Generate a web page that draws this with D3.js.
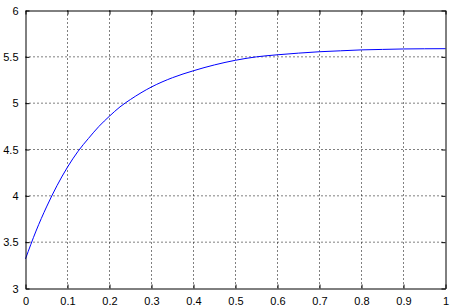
<!DOCTYPE html>
<html lang="en">
<head>
    <meta charset="UTF-8">
    <title>Curve</title>
    <script src="https://d3js.org/d3.v7.min.js"></script>
    <style>
        body { margin: 0; background: #fff; }
        .axis text {
            font-family: "Liberation Sans", Arial, sans-serif;
            font-size: 11px;
            fill: #000;
        }
    </style>
</head>
<body>
    <script>
        // values
        var xValues = [0, 0.025, 0.05, 0.075, 0.1, 0.125, 0.15, 0.175, 0.2, 0.225, 0.25, 0.3, 0.35, 0.4, 0.45, 0.5,
                       0.55, 0.6, 0.65, 0.7, 0.75, 0.8, 0.85, 0.9, 0.95, 1];
        var yValues = [3.32, 3.62, 3.88, 4.11, 4.31, 4.48, 4.62, 4.75, 4.86, 4.96, 5.04, 5.175, 5.275, 5.35, 5.413, 5.463,
                       5.50, 5.522, 5.54, 5.555, 5.565, 5.575, 5.58, 5.585, 5.587, 5.588];
        var xTicks = [0, 0.1, 0.2, 0.3, 0.4, 0.5, 0.6, 0.7, 0.8, 0.9, 1];
        var yTicks = [3, 3.5, 4, 4.5, 5, 5.5, 6];

        var width = 458;
        var height = 307;
        var pLeft = 25, pRight = 445, pTop = 10, pBottom = 288;

        var svg = d3.select('body')
            .append('svg')
            .attr('width', width)
            .attr('height', height);

        var xscale = d3.scaleLinear()
            .domain([0, 1])
            .range([pLeft, pRight]);

        var yscale = d3.scaleLinear()
            .domain([3, 6])
            .range([pBottom, pTop]);

        var g = svg.append('g')
            .attr('transform', 'translate(0.5,0.5)');

        // grid
        g.selectAll('.xgrid')
            .data(xTicks.slice(1, -1))
            .enter()
            .append('line')
            .attr('x1', xscale)
            .attr('x2', xscale)
            .attr('y1', pTop)
            .attr('y2', pBottom)
            .attr('stroke', '#000')
            .attr('stroke-dasharray', '1 3');

        g.selectAll('.ygrid')
            .data(yTicks.slice(1, -1))
            .enter()
            .append('line')
            .attr('x1', pLeft)
            .attr('x2', pRight)
            .attr('y1', yscale)
            .attr('y2', yscale)
            .attr('stroke', '#000')
            .attr('stroke-dasharray', '1 3');

        // curve
        var line = d3.line()
            .x(function (d, i) { return xscale(xValues[i]); })
            .y(function (d) { return yscale(d); })
            .curve(d3.curveMonotoneX);

        g.append('path')
            .datum(yValues)
            .attr('d', line)
            .attr('fill', 'none')
            .attr('stroke', '#0000ff')
            .attr('stroke-width', 1);

        // axes, ticks point inward like matlab
        var xaxis = d3.axisBottom(xscale)
            .tickValues(xTicks)
            .tickSizeInner(-4)
            .tickSizeOuter(0)
            .tickPadding(9)
            .tickFormat(d3.format('~g'));

        var xaxisTop = d3.axisTop(xscale)
            .tickValues(xTicks)
            .tickSizeInner(-4)
            .tickSizeOuter(0)
            .tickFormat('');

        var yaxis = d3.axisLeft(yscale)
            .tickValues(yTicks)
            .tickSizeInner(-4)
            .tickSizeOuter(0)
            .tickPadding(7)
            .tickFormat(d3.format('~g'));

        var yaxisRight = d3.axisRight(yscale)
            .tickValues(yTicks)
            .tickSizeInner(-4)
            .tickSizeOuter(0)
            .tickFormat('');

        g.append('g')
            .attr('class', 'axis')
            .attr('transform', 'translate(0,' + pBottom + ')')
            .call(xaxis);

        g.append('g')
            .attr('class', 'axis')
            .attr('transform', 'translate(0,' + pTop + ')')
            .call(xaxisTop);

        g.append('g')
            .attr('class', 'axis')
            .attr('transform', 'translate(' + pLeft + ',0)')
            .call(yaxis);

        g.append('g')
            .attr('class', 'axis')
            .attr('transform', 'translate(' + pRight + ',0)')
            .call(yaxisRight);

        g.selectAll('.axis path')
            .attr('stroke', '#000')
            .attr('stroke-width', 1);
        g.selectAll('.axis line')
            .attr('stroke', '#000');
    </script>
</body>
</html>
